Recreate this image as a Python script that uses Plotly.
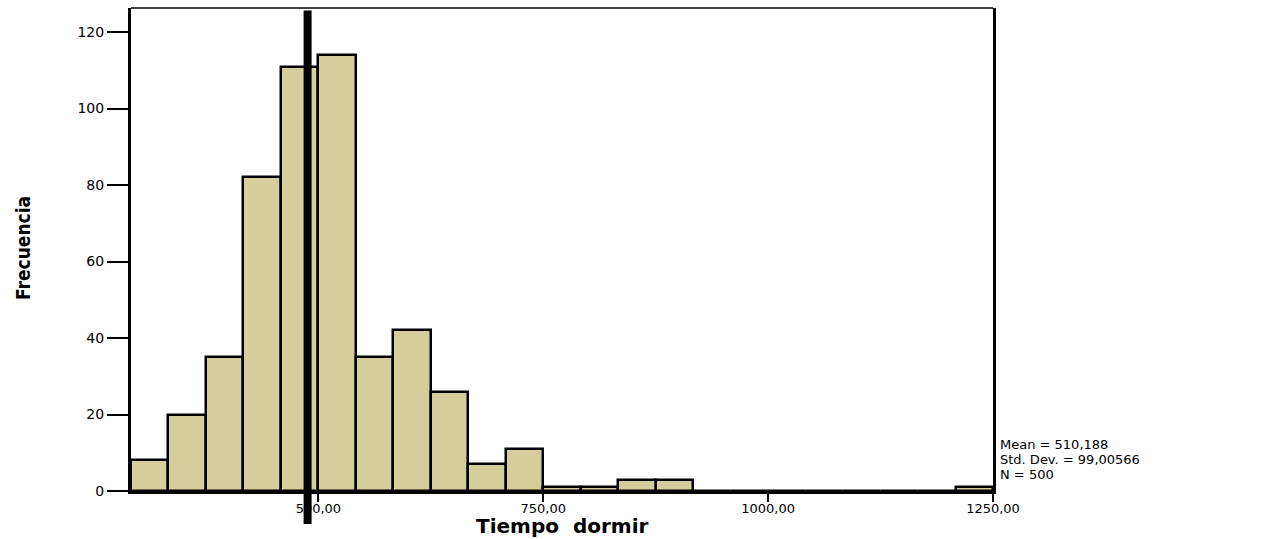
import plotly.graph_objects as go

# ---- data ----
bin_start = 291.6667
bin_width = 41.6667
counts = [8, 20, 35, 82, 111, 114, 35, 42, 26, 7, 11, 1, 1, 3, 3,
          0, 0, 0, 0, 0, 0, 0, 1]
x_tick_vals = [500, 750, 1000, 1250]
x_tick_text = ["500,00", "750,00", "1000,00", "1250,00"]
y_tick_vals = [0, 20, 40, 60, 80, 100, 120]
ref_line_value = 488
stats_lines = ["Mean = 510,188", "Std. Dev. = 99,00566", "N = 500"]
x_title = "Tiempo\u00a0 dormir"
y_title = "Frecuencia"

centers = [bin_start + (i + 0.5) * bin_width for i in range(len(counts))]
x_min = bin_start
x_max = bin_start + len(counts) * bin_width

W, H = 1274, 539
L, R, T, B = 131, 281, 8, 48
plot_h = H - T - B
plot_w = W - L - R

fig = go.Figure()
fig.add_trace(go.Bar(
    x=centers, y=counts, width=[bin_width] * len(counts),
    marker=dict(color="#D3CE9B", line=dict(color="black", width=2.5)),
    showlegend=False, hoverinfo="x+y",
))

tick_font = dict(family="DejaVu Sans, Liberation Sans, Arial", size=14, color="black")

fig.update_layout(
    width=W, height=H,
    margin=dict(l=L, r=R, t=T, b=B, pad=0),
    paper_bgcolor="white", plot_bgcolor="white",
    bargap=0,
    xaxis=dict(
        range=[x_min, x_max], tickvals=x_tick_vals, ticktext=x_tick_text,
        ticks="outside", ticklen=8, tickwidth=2, tickcolor="black",
        showline=True, linecolor="black", linewidth=2.5, mirror=False,
        showgrid=False, zeroline=False,
        tickfont=dict(family="DejaVu Sans, Liberation Sans, Arial", size=13, color="black"),
        ticklabelstandoff=-4,
    ),
    yaxis=dict(
        range=[0, 126.3], tickvals=y_tick_vals,
        ticks="outside", ticklen=21, tickwidth=1.5, tickcolor="black",
        showline=True, linecolor="black", linewidth=3, mirror=True,
        showgrid=False, zeroline=False, tickfont=tick_font,
    ),
    font=dict(family="DejaVu Sans, Liberation Sans, Arial", color="black"),
)

# top frame line
fig.add_shape(type="line", xref="paper", yref="paper", x0=0, x1=1, y0=1, y1=1,
              line=dict(color="black", width=1.5))

# thick reference line (extends below axis)
rx = (ref_line_value - x_min) / (x_max - x_min)
fig.add_shape(type="line", xref="paper", yref="paper",
              x0=rx, x1=rx, y0=-(524 - (H - B)) / plot_h, y1=(H - B - 10.5) / plot_h,
              line=dict(color="black", width=8))

# stats text
for i, s in enumerate(stats_lines):
    fig.add_annotation(
        text=s, xref="paper", yref="paper", x=1, y=(H - B - (444 + 15 * i)) / plot_h,
        xanchor="left", yanchor="middle", xshift=5, showarrow=False,
        font=dict(family="DejaVu Sans, Liberation Sans, Arial", size=13, color="black"),
    )

# axis titles
fig.add_annotation(
    text="<b>" + x_title + "</b>", xref="paper", yref="paper",
    x=0.5, y=-(H - (H - B)) / plot_h, xanchor="center", yanchor="bottom",
    showarrow=False, borderpad=0,
    font=dict(family="DejaVu Sans, Liberation Sans, Arial", size=20, color="black"),
)
fig.add_annotation(
    text="<b>" + y_title + "</b>", xref="paper", yref="paper",
    x=-(L - 23) / plot_w, y=(H - B - 248) / plot_h, xanchor="center", yanchor="middle",
    textangle=-90, showarrow=False,
    font=dict(family="DejaVu Sans Condensed, Liberation Sans Narrow, DejaVu Sans, sans-serif",
              size=19, color="black"),
)

fig.write_html("out.html")
